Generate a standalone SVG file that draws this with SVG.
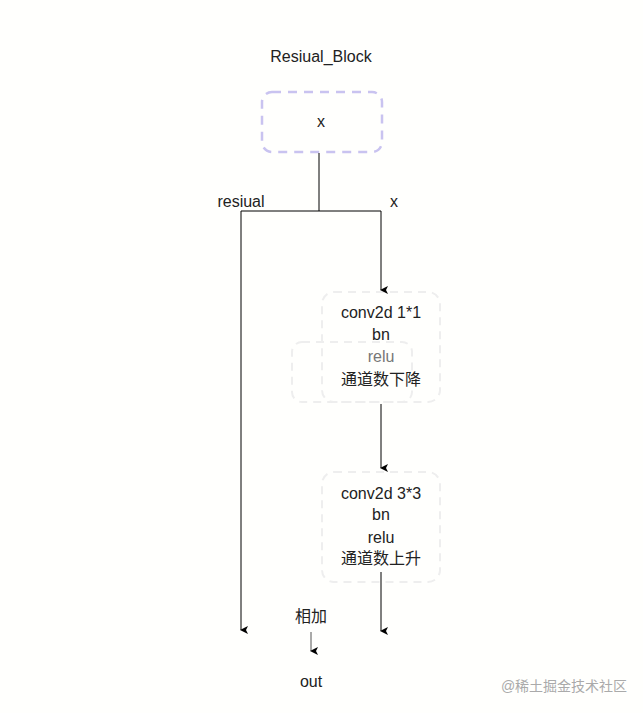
<svg xmlns="http://www.w3.org/2000/svg" width="643" height="713" viewBox="0 0 643 713">
<style>
text{font-family:"Liberation Sans","Noto Sans CJK SC",sans-serif;font-size:16px;fill:#222;text-anchor:middle}
.faint{fill:none;stroke:#eee;stroke-width:2;stroke-dasharray:8 6}
.ln{fill:none;stroke:#000;stroke-width:1}
</style>
<defs><marker id="a" markerWidth="8" markerHeight="8" refX="4" refY="7" orient="auto" markerUnits="userSpaceOnUse" viewBox="0 0 8 8"><path d="M0,0 L4,8 L8,0 L4,2 Z" fill="#000" transform="rotate(0)"/></marker></defs>
<rect width="643" height="713" fill="#fffffd"/>
<text x="321" y="62">Resiual_Block</text>
<g id="x"><rect x="262" y="92" width="120" height="60" rx="10" fill="none" stroke="#c9c3f0" stroke-width="2.5" stroke-dasharray="9 7"/><text x="321" y="127">x</text></g>
<g id="conv1"><rect x="292" y="342" width="120" height="60" rx="10" class="faint"/><rect x="322" y="292" width="118" height="110" rx="12" class="faint"/>
<text x="381" y="318">conv2d 1*1</text><text x="381" y="340">bn</text><text x="381" y="362" style="fill:#777">relu</text><text x="381" y="385">通道数下降</text></g>
<g id="conv2"><rect x="322" y="472" width="118" height="110" rx="12" class="faint"/>
<text x="381" y="499">conv2d 3*3</text><text x="381" y="520">bn</text><text x="381" y="543">relu</text><text x="381" y="564">通道数上升</text></g>
<g id="labels"><text x="241" y="207">resiual</text><text x="394" y="207">x</text><text x="311" y="622">相加</text><text x="311" y="687">out</text>
<text x="564" y="691" style="font-size:14px;fill:#aaa">@稀土掘金技术社区</text></g>
<g id="connectors">
<path class="ln" d="M319,153 V211 M241,211 H381"/>
<path class="ln" d="M241,211 V630" marker-end="url(#a)"/>
<path class="ln" d="M381,211 V290" marker-end="url(#a)"/>
<path class="ln" d="M381,404 V468" marker-end="url(#a)"/>
<path class="ln" d="M381,572 V631" marker-end="url(#a)"/>
<path d="M311,632 V651" stroke="#555" fill="none" marker-end="url(#a)"/>
</g>
</svg>
